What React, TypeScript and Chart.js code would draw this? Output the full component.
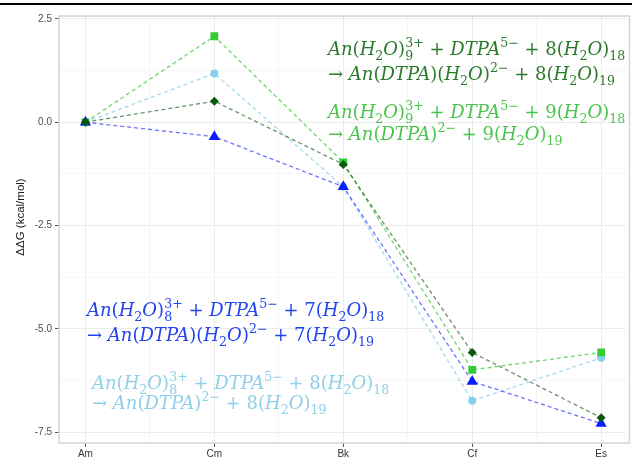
import React, { useEffect, useRef } from 'react';
import { Chart, registerables } from 'chart.js';
Chart.register(...registerables);

const categories = ['Am', 'Cm', 'Bk', 'Cf', 'Es'];
const yMajorTicks = [-7.5, -5, -2.5, 0, 2.5];
const yMinorTicks = [-6.25, -3.75, -1.25, 1.25];
const xMinorTicks = [0.5, 1.5, 2.5, 3.5];
const darkGreenVals = [0, 0.51, -1.02, -5.57, -7.15];
const lightGreenVals = [0, 2.08, -0.97, -5.99, -5.57];
const lightBlueVals = [0, 1.18, -1.56, -6.74, -5.7];
const blueVals = [0, -0.35, -1.56, -6.27, -7.29];
const yTitle = 'ΔΔG (kcal/mol)';

const eqDarkGreen = ['An(H_2O)^{3+}_{9} + DTPA^{5−} + 8(H_2O)_{18}', '→ An(DTPA)(H_2O)^{2−} + 8(H_2O)_{19}'];
const eqLightGreen = ['An(H_2O)^{3+}_{9} + DTPA^{5−} + 9(H_2O)_{18}', '→ An(DTPA)^{2−} + 9(H_2O)_{19}'];
const eqBlue = ['An(H_2O)^{3+}_{8} + DTPA^{5−} + 7(H_2O)_{18}', '→ An(DTPA)(H_2O)^{2−} + 7(H_2O)_{19}'];
const eqLightBlue = ['An(H_2O)^{3+}_{8} + DTPA^{5−} + 8(H_2O)_{18}', '→ An(DTPA)^{2−} + 8(H_2O)_{19}'];

function runs(text: string, k: string) {
  const parts: React.ReactNode[] = [];
  let cur = '';
  let curItalic: boolean | null = null;
  let n = 0;
  const push = () => {
    if (cur) {
      parts.push(
        <span key={k + '-' + n++} style={{ fontStyle: curItalic ? 'italic' : 'normal' }}>{cur}</span>
      );
    }
    cur = '';
  };
  for (const ch of text) {
    const it = /[A-Za-z]/.test(ch);
    if (curItalic !== null && it !== curItalic) push();
    curItalic = it;
    cur += ch;
  }
  push();
  return parts;
}

const SUP = { fontSize: '0.7em', position: 'relative' as const, top: '-0.62em' };
const SUB = { fontSize: '0.7em', position: 'relative' as const, top: '0.42em' };

function MathLine({ s }: { s: string }) {
  const out: React.ReactNode[] = [];
  let i = 0;
  let buf = '';
  let key = 0;
  const flush = () => {
    if (buf) {
      out.push(...runs(buf, 't' + key++));
      buf = '';
    }
  };
  const readGroup = () => {
    if (s[i] === '{') {
      const j = s.indexOf('}', i);
      const g = s.slice(i + 1, j);
      i = j + 1;
      return g;
    }
    const g = s[i];
    i++;
    return g;
  };
  while (i < s.length) {
    const c = s[i];
    if (c === '^' || c === '_') {
      flush();
      i++;
      let sup: string | null = null;
      let sub: string | null = null;
      if (c === '^') sup = readGroup();
      else sub = readGroup();
      if (s[i] === '_' && sub === null) {
        i++;
        sub = readGroup();
      } else if (s[i] === '^' && sup === null) {
        i++;
        sup = readGroup();
      }
      const k = 's' + key++;
      if (sup !== null && sub !== null) {
        out.push(<span key={k + 'b'} style={SUB}>{runs(sub, k + 'b')}</span>);
        out.push(
          <span key={k + 'a'} style={{ ...SUP, marginLeft: -0.636 * sub.length + 'em' }}>{runs(sup, k + 'a')}</span>
        );
      } else if (sup !== null) {
        out.push(<span key={k} style={SUP}>{runs(sup, k + 'a')}</span>);
      } else if (sub !== null) {
        out.push(<span key={k} style={SUB}>{runs(sub, k + 'b')}</span>);
      }
    } else {
      buf += c;
      i++;
    }
  }
  flush();
  return <>{out}</>;
}

function Equation({ lines, color, left, baselines }: { lines: string[]; color: string; left: number; baselines: number[] }) {
  return (
    <>
      {lines.map((l, idx) => (
        <div
          key={idx}
          style={{
            position: 'absolute',
            left,
            top: baselines[idx] - 16,
            height: 20,
            lineHeight: '20px',
            fontSize: 18,
            fontFamily: '"DejaVu Serif", serif',
            color,
            whiteSpace: 'nowrap',
          }}
        >
          <MathLine s={l} />
        </div>
      ))}
    </>
  );
}

export default function App() {
  const ref = useRef<HTMLCanvasElement | null>(null);
  useEffect(() => {
    if (!ref.current) return;
    const mk = (label: string, vals: number[], color: string, line: string, style: any, radius: number) => ({
      label,
      data: vals.map((v, i) => ({ x: i, y: v })),
      borderColor: line,
      backgroundColor: color,
      pointBackgroundColor: color,
      pointBorderColor: color,
      pointBorderWidth: 0,
      pointStyle: style,
      pointRadius: radius,
      borderWidth: 1.3,
      borderDash: [4, 3],
      showLine: true,
      fill: false,
      tension: 0,
    });
    const framePlugin = {
      id: 'frame',
      beforeDatasetsDraw(chart: any) {
        const { ctx, chartArea: a } = chart;
        ctx.save();
        ctx.strokeStyle = '#d4d4d4';
        ctx.lineWidth = 1.5;
        ctx.strokeRect(a.left, a.top, a.right - a.left + 4, a.bottom - a.top);
        ctx.restore();
      },
      afterDraw(chart: any) {
        const { ctx } = chart;
        ctx.save();
        ctx.translate(21, 217);
        ctx.rotate(-Math.PI / 2);
        ctx.fillStyle = '#1a1a1a';
        ctx.font = '11.5px "Liberation Sans", Arial, sans-serif';
        ctx.textAlign = 'center';
        ctx.textBaseline = 'middle';
        ctx.fillText(yTitle, 0, 0);
        ctx.restore();
      },
    };
    // Chart.js paints the first dataset on top
    const chart = new Chart(ref.current, {
      type: 'line',
      data: {
        datasets: [
          mk('An(H2O)9 + 8', darkGreenVals, '#0b5a0b', 'rgba(20,90,20,0.65)', 'rectRot', 4.5),
          mk('An(H2O)8 + 7', blueVals, '#0a1eff', 'rgba(30,40,255,0.65)', 'triangle', 6.5),
          mk('An(H2O)9 + 9', lightGreenVals, '#33cc33', 'rgba(60,200,60,0.75)', 'rect', 5.5),
          mk('An(H2O)8 + 8', lightBlueVals, '#87ceeb', 'rgba(135,206,235,0.75)', 'circle', 4),
        ],
      },
      options: {
        animation: false,
        responsive: false,
        maintainAspectRatio: false,
        layout: { padding: { left: 0, top: 16, right: 0, bottom: 0 } },
        plugins: { legend: { display: false }, tooltip: { enabled: false } },
        scales: {
          x: {
            type: 'linear',
            min: -0.205,
            max: 4.189,
            afterBuildTicks: (s: any) => {
              s.ticks = [0, 1, 2, 3, 4, ...xMinorTicks].map((v) => ({ value: v }));
            },
            afterFit: (s: any) => {
              s.height = 16;
            },
            border: { display: false },
            grid: {
              color: (c: any) => (Number.isInteger(c.tick?.value) ? '#ebebeb' : '#f6f6f6'),
              tickColor: (c: any) => (Number.isInteger(c.tick?.value) ? '#555' : 'rgba(0,0,0,0)'),
              tickLength: 4,
              lineWidth: 1,
            },
            ticks: {
              autoSkip: false,
              maxRotation: 0,
              padding: 1,
              color: '#333',
              font: { size: 10, family: '"Liberation Sans", Arial, sans-serif' },
              callback: (v: any) => (Number.isInteger(v) ? categories[v] : ''),
            },
          },
          y: {
            type: 'linear',
            min: -7.76,
            max: 2.57,
            afterBuildTicks: (s: any) => {
              s.ticks = [...yMajorTicks, ...yMinorTicks].map((v) => ({ value: v }));
            },
            afterFit: (s: any) => {
              s.width = 59;
            },
            border: { display: false },
            grid: {
              color: (c: any) => (yMajorTicks.includes(c.tick?.value) ? '#ebebeb' : '#f6f6f6'),
              tickColor: (c: any) => (yMajorTicks.includes(c.tick?.value) ? '#555' : 'rgba(0,0,0,0)'),
              tickLength: 4,
              lineWidth: 1,
            },
            ticks: {
              autoSkip: false,
              padding: 3,
              color: '#4d4d4d',
              font: { size: 10, family: '"Liberation Sans", Arial, sans-serif' },
              callback: (v: any) => (yMajorTicks.includes(v) ? Number(v).toFixed(1) : ''),
            },
          },
        },
      },
      plugins: [framePlugin],
    });
    return () => chart.destroy();
  }, []);
  return (
    <div style={{ position: 'fixed', left: 0, top: 0, width: 632, height: 459, background: '#fff', overflow: 'hidden' }}>
      <div style={{ position: 'absolute', left: 0, top: 3, width: 632, height: 2, background: '#000' }} />
      <canvas ref={ref} width={632} height={459} style={{ position: 'absolute', left: 0, top: 0, width: 632, height: 459 }} />
      <Equation lines={eqDarkGreen} color="#2b7a2b" left={328} baselines={[55, 80]} />
      <Equation lines={eqLightGreen} color="#4cc44c" left={328} baselines={[118, 140]} />
      <Equation lines={eqBlue} color="#2244ee" left={87} baselines={[316, 341]} />
      <Equation lines={eqLightBlue} color="#8ecfe9" left={92} baselines={[389, 409]} />
    </div>
  );
}
